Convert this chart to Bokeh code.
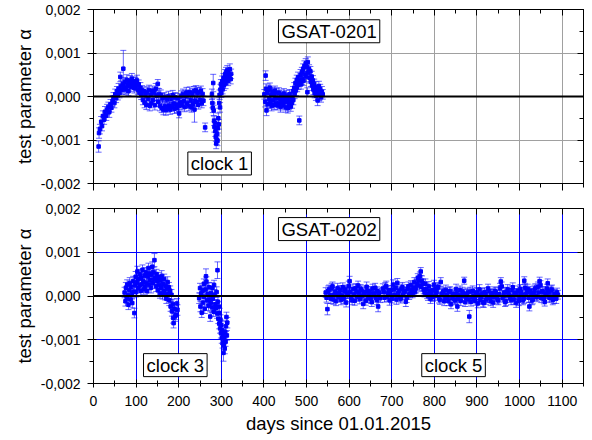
from bokeh.plotting import figure
from bokeh.models import (ColumnDataSource, Whisker, Span, Label, FixedTicker,
                          CustomJSTickFormatter, LinearAxis, Range1d, TeeHead,
                          CustomLabelingPolicy)
from bokeh.layouts import column
from bokeh.embed import file_html
from bokeh.resources import INLINE

FONT = "Liberation Sans"
UNIT = 1e-4  # alpha values and errors below are in units of 1e-4

# ---------------- GSAT-0201 (clock 1) ----------------
days_0201 = [
    12, 13, 15, 18, 20, 22, 25, 27, 30, 32,
    35, 37, 40, 42, 45, 47, 49, 51, 53, 55,
    57, 59, 61, 63, 65, 67, 69, 70, 72, 74,
    76, 78, 80, 82, 84, 86, 88, 90, 92, 94,
    96, 98, 100, 102, 104, 106, 108, 110, 112, 114,
    116, 118, 120, 122, 124, 126, 128, 130, 132, 134,
    136, 138, 140, 142, 144, 146, 148, 151, 152, 154,
    156, 158, 160, 162, 164, 166, 168, 170, 172, 174,
    176, 178, 180, 182, 184, 186, 188, 190, 192, 194,
    196, 198, 200, 201, 204, 206, 208, 210, 212, 214,
    216, 218, 220, 222, 224, 226, 228, 230, 232, 234,
    236, 237, 238, 240, 242, 244, 246, 248, 250, 252,
    254, 256, 258, 262, 278, 279, 280, 281, 282, 283,
    284, 285, 286, 287, 288, 289, 290, 291, 292, 293,
    294, 295, 296, 297, 298, 299, 300, 301, 302, 303,
    305, 306, 307, 309, 310, 311, 313, 314, 316, 317,
    319, 320, 322, 323,
    401, 403, 404, 405, 406, 408, 409, 411, 412, 414,
    415, 417, 418, 420, 421, 423, 424, 426, 427, 429,
    430, 432, 433, 435, 436, 438, 439, 441, 442, 444,
    445, 447, 448, 450, 451, 453, 454, 456, 457, 459,
    460, 462, 463, 465, 466, 468, 469, 471, 472, 474,
    475, 477, 478, 480, 481, 483, 484, 486, 487, 489,
    490, 492, 493, 495, 496, 498, 499, 501, 502, 503,
    504, 506, 507, 509, 510, 512, 513, 515, 516, 518,
    519, 521, 522, 524, 526, 527, 529, 530, 532, 534,
    536, 538,
]
alpha_0201 = [
    -11.5, -8.4, -7.5, -5.8, -6.8, -4.5, -5.3, -3.5, -4.4, -3.0,
    -2.4, -3.6, -1.8, -2.6, -1.0, -0.2, -1.5, 0.5, -0.4, 1.2,
    0.3, 1.8, 0.8, 4.5, 2.4, 1.5, 2.9, 6.4, 2.0, 3.3,
    1.6, 3.8, 2.5, 1.2, 3.0, 3.6, 2.2, 4.1, 2.8, 3.5,
    1.9, 3.2, 2.4, 3.7, 1.5, 2.8, 0.9, 2.0, 0.4, 1.4,
    -0.8, 1.2, -1.4, 0.6, -1.9, 1.0, -0.6, 1.5, -2.1, 0.4,
    -1.5, 1.3, -0.8, 0.9, -2.0, 1.8, 0.2, 2.9, -1.2, 0.6,
    -2.2, 0.3, -2.6, -0.4, -3.0, -0.1, -2.3, -3.1, -0.6, -2.5,
    0.0, -2.1, -3.0, -0.5, -2.4, 0.3, -1.6, -2.8, -0.2, -1.9,
    -2.6, -0.4, -2.2, -3.9, -1.4, 0.1, -2.0, 0.6, -1.1, -2.4,
    0.2, 0.9, -1.6, 0.5, -2.2, 1.0, -0.9, -2.5, 0.6, -1.7,
    1.2, -3.0, -1.0, 1.4, -1.2, 0.8, -1.9, 1.0, -0.8, 1.3,
    -1.5, 0.6, -1.0, -7.1, 0.5, -1.5, -2.6, 3.1, -3.2, -5.6,
    -7.0, -6.1, -8.0, -9.2, -10.8, -9.9, -8.6, -10.2, -7.3, -5.0,
    -6.4, -1.5, 0.4, -2.5, 1.6, 2.8, 0.8, 2.2, 3.5, 1.7,
    4.2, 2.6, 3.8, 5.1, 3.0, 5.6, 4.4, 6.0, 3.6, 5.3,
    4.8, 6.3, 4.0, 5.2,
    0.5, -1.2, 4.8, 1.8, -3.2, 0.9, -1.8, 1.5, -0.6, 2.0,
    -1.5, 0.3, -2.2, 1.1, -0.9, 0.6, -1.9, 1.3, -0.4, -1.5,
    0.8, -2.0, -0.3, 0.9, -1.6, -0.5, -2.4, 0.4, -1.1, -0.2,
    -2.0, 0.7, -1.3, -0.6, -2.5, 0.2, -1.0, -2.7, -0.4, -1.8,
    0.5, -1.2, -2.3, -0.1, -1.5, 1.2, -0.8, 2.0, 0.6, 3.1,
    1.4, 3.8, 2.2, 4.4, 2.7, -5.5, 3.5, 5.0, 2.8, 5.6,
    4.0, 6.4, 3.6, 7.0, 5.2, 7.6, 4.6, 6.8, 1.0, 7.9,
    5.5, 6.2, 4.3, 5.8, 3.4, 4.6, 2.5, 3.7, 1.6, 2.9,
    0.8, 2.2, 0.2, 1.5, -0.9, 1.0, 2.4, 0.3, 1.7, -0.2,
    1.1, 0.5,
]
err_0201 = [
    1.3, 1.2, 1.1, 1.2, 1.1, 1.2, 1.1, 1.2, 1.1, 1.2,
    1.1, 1.2, 1.1, 1.0, 1.2, 1.1, 1.1, 1.2, 1.0, 1.1,
    1.1, 1.2, 1.1, 1.1, 1.2, 1.0, 1.1, 4.2, 1.2, 1.1,
    1.1, 1.2, 1.1, 1.0, 1.1, 1.2, 1.1, 1.2, 1.1, 1.0,
    1.1, 1.2, 1.1, 1.2, 1.1, 1.0, 1.1, 1.2, 1.1, 1.1,
    1.1, 1.0, 1.2, 1.1, 1.1, 1.2, 1.0, 1.1, 1.2, 1.1,
    1.1, 1.1, 1.2, 1.0, 1.1, 1.2, 1.1, 1.0, 1.1, 1.2,
    1.1, 1.2, 1.1, 1.1, 1.2, 1.0, 1.1, 1.2, 1.1, 1.1,
    1.2, 1.1, 1.1, 1.2, 1.0, 1.1, 1.2, 1.1, 1.1, 1.2,
    1.1, 1.1, 1.2, 1.0, 1.1, 1.2, 1.1, 1.1, 1.2, 1.1,
    1.1, 1.2, 1.1, 1.0, 1.1, 1.2, 1.1, 1.1, 1.2, 1.1,
    1.1, 2.9, 1.2, 1.1, 1.1, 1.2, 1.0, 1.1, 1.2, 1.1,
    1.1, 1.2, 1.1, 1.0, 1.2, 1.1, 1.1, 2.0, 1.2, 1.1,
    1.2, 1.1, 1.2, 1.1, 1.2, 1.1, 1.2, 1.1, 1.1, 1.2,
    1.1, 1.2, 1.1, 1.1, 1.2, 1.1, 1.0, 1.1, 1.2, 1.1,
    1.1, 1.2, 1.1, 1.1, 1.2, 1.1, 1.2, 1.1, 1.1, 1.2,
    1.1, 1.2, 1.1, 1.1,
    1.1, 1.2, 1.1, 1.1, 1.2, 1.1, 1.0, 1.1, 1.2, 1.1,
    1.1, 1.2, 1.1, 1.0, 1.1, 1.2, 1.1, 1.1, 1.2, 1.1,
    1.1, 1.1, 1.2, 1.1, 1.0, 1.1, 1.2, 1.1, 1.1, 1.2,
    1.1, 1.1, 1.2, 1.1, 1.1, 1.2, 1.0, 1.1, 1.2, 1.1,
    1.1, 1.2, 1.1, 1.1, 1.2, 1.1, 1.1, 1.2, 1.1, 1.1,
    1.2, 1.1, 1.1, 1.2, 1.1, 1.0, 1.1, 1.2, 1.1, 1.1,
    1.2, 1.1, 1.1, 1.2, 1.1, 1.1, 1.2, 1.1, 1.0, 1.2,
    1.1, 1.1, 1.2, 1.1, 1.1, 1.2, 1.1, 1.1, 1.2, 1.1,
    1.1, 1.2, 1.1, 1.1, 1.2, 1.1, 1.1, 1.2, 1.1, 1.1,
    1.2, 1.1,
]

# ---------------- GSAT-0202 (clock 3, clock 5) ----------------
days_0202 = [
    73, 75, 76, 78, 79, 81, 82, 84, 85, 87,
    88, 90, 91, 93, 94, 96, 97, 99, 100, 102,
    103, 105, 106, 108, 109, 111, 112, 114, 115, 117,
    118, 120, 121, 123, 124, 126, 127, 129, 130, 132,
    133, 135, 136, 138, 139, 141, 142, 143, 145, 147,
    148, 150, 151, 153, 154, 156, 157, 159, 160, 162,
    163, 165, 166, 168, 169, 171, 172, 174, 175, 177,
    178, 180, 181, 183, 184, 186, 187, 188, 190, 192,
    194, 196, 197,
    248, 250, 251, 253, 254, 256, 257, 259, 260, 261,
    263, 264, 265, 267, 268, 270, 271, 272, 274, 275,
    276, 278, 279, 280, 282, 283, 284, 286, 287, 289,
    290, 291, 292, 293, 294, 295, 296, 297, 298, 299,
    300, 301, 302, 303, 304, 305, 306, 307, 308, 309,
    310, 311, 312, 313, 314,
    545, 549, 553, 557, 561, 565, 569, 573, 577, 581,
    585, 589, 593, 597, 601, 605, 609, 613, 617, 621,
    625, 629, 633, 637, 641, 645, 649, 653, 657, 661,
    665, 668, 671, 679, 683, 687, 691, 695, 699, 703,
    707, 711, 713, 717, 721, 725, 729, 733, 737, 741,
    745, 749, 753, 757, 761, 765, 768, 771, 775, 779,
    783, 787, 791, 795, 799, 803, 807, 811, 815, 819,
    823, 827, 831, 835, 839, 843, 847, 851, 854, 858,
    862, 866, 870, 874, 878, 882, 886, 890, 894, 898,
    902, 906, 910, 914, 918, 922, 926, 930, 934, 938,
    942, 946, 950, 954, 956, 960, 964, 968, 972, 976,
    980, 984, 988, 992, 996, 1000, 1004, 1008, 1011, 1015,
    1019, 1023, 1027, 1031, 1035, 1039, 1043, 1047, 1051, 1055,
    1059, 1063, 1066, 1070, 1074, 1078, 1082, 1086, 1090,
    547, 551, 555, 559, 563, 567, 571, 575, 579, 583,
    587, 591, 595, 599, 603, 607, 611, 615, 619, 623,
    627, 631, 635, 639, 643, 647, 651, 655, 659, 663,
    666, 669, 673, 681, 685, 689, 693, 697, 701, 705,
    709, 715, 719, 723, 727, 731, 735, 739, 743, 747,
    751, 755, 759, 763, 766, 769, 773, 777, 781, 785,
    789, 793, 797, 801, 805, 809, 813, 817, 821, 825,
    829, 833, 837, 841, 845, 849, 852, 856, 860, 864,
    868, 872, 876, 880, 884, 888, 892, 896, 900, 904,
    908, 912, 916, 920, 924, 928, 932, 936, 940, 944,
    948, 952, 958, 962, 966, 970, 974, 978, 982, 986,
    990, 994, 998, 1002, 1006, 1010, 1013, 1017, 1021, 1025,
    1029, 1033, 1037, 1041, 1045, 1049, 1053, 1057, 1061, 1064,
    1068, 1072, 1076, 1080, 1084, 1088,
]
alpha_0202 = [
    0.8, -1.2, 1.9, -0.4, 2.6, 0.2, -2.0, 1.4, 3.0, -0.8,
    2.1, 0.5, -1.6, 3.4, 1.0, -3.9, 2.5, 4.4, 0.9, 3.1,
    5.6, 1.8, 3.9, 2.4, 5.0, 1.2, 4.2, 2.7, 6.0, 3.3,
    1.5, 4.7, 2.0, 5.4, 3.0, 1.1, 4.5, 6.4, 2.6, 5.1,
    3.6, 1.9, 4.8, 6.7, 2.9, 5.5, 3.8, 8.2, 4.1, 2.2,
    5.0, 3.4, 1.3, 4.3, 2.5, 0.7, 3.6, 1.9, 4.6, 0.4,
    2.8, 1.1, 3.9, 0.2, 2.3, -0.6, 1.6, 3.2, 0.5, 2.0,
    -1.0, 1.2, -2.4, 0.3, -3.5, -1.8, -5.0, -6.2, -2.9, -4.6,
    -4.3, -1.7, -3.2,
    -0.5, 1.8, -2.4, 0.6, -3.8, 1.2, -1.5, 2.8, -0.2, -2.9,
    1.5, 4.5, 3.3, -1.0, 0.4, -2.2, 2.0, -0.8, -4.7, -1.6,
    0.7, -2.6, 1.9, -0.6, -3.6, 2.5, 0.2, -1.9, -2.8, 0.9,
    -4.0, 5.9, -1.3, -5.2, -2.4, -6.3, -3.9, -7.4, -5.5, -8.5,
    -6.6, -9.6, -7.8, -10.8, -8.9, -13.0, -11.2, -9.7, -12.0, -8.2,
    -10.4, -6.9, -4.8, -9.0, -6.1,
    0.8, -3.0, 1.5, -0.6, 2.2, 0.3, -1.2, 1.8, 0.5, -0.9,
    2.0, 1.1, -1.5, 0.7, 3.4, -0.3, 1.6, -1.1, 0.9, 2.4,
    -0.7, 1.3, -1.8, 0.4, 2.1, -0.5, 1.0, -1.4, 0.6, 1.9,
    -0.9, -2.4, 0.8, 1.7, -0.4, 2.3, 0.6, -1.0, 1.4, 2.6,
    0.2, -0.8, 3.0, 1.2, -0.6, 2.0, 0.9, -1.3, 1.6, 0.3,
    2.5, 0.7, 3.2, 1.8, 4.1, 2.4, 5.6, 3.5, 1.5, 2.8,
    0.4, 2.2, -0.7, 1.3, 2.6, 0.1, 1.8, -0.5, 3.2, 0.6,
    -1.2, 1.4, -0.3, 0.9, -1.9, 0.5, -0.8, 1.6, -2.4, 0.2,
    -1.1, 1.0, 3.5, -0.4, 0.8, -4.7, -1.3, 1.2, -0.6, 0.7,
    -1.7, 1.5, -0.2, -1.4, 0.9, -0.8, 1.7, -0.3, 0.6, -1.5,
    1.1, 0.2, -1.0, 1.8, 3.3, -0.4, 0.8, -1.2, 1.5, 0.1,
    -0.9, 2.0, 0.5, -1.6, 1.2, -0.2, 0.9, -1.0, 3.5, 0.4,
    1.6, -2.4, 0.7, -0.8, 1.4, 0.0, 2.1, 3.4, -0.5, 1.0,
    -1.3, 0.6, 2.9, -0.4, 1.3, -0.9, 0.5, -0.6, 0.3,
    -0.4, 1.2, 0.2, 1.9, -0.8, 1.0, 0.6, -0.3, 1.4, 0.1,
    -0.6, 1.5, 0.4, 2.3, 0.9, -1.0, 0.3, 1.8, -0.2, 0.8,
    1.6, 0.0, 0.9, -1.1, 1.2, 0.5, -0.7, 1.7, 0.2, -0.4,
    1.1, 0.3, -0.5, 0.9, 2.0, -0.2, 1.3, 0.4, -0.6, 1.5,
    1.9, 0.7, -0.3, 1.6, 0.2, 1.1, -0.4, 2.2, 0.6, 1.4,
    1.9, 0.9, 2.7, 3.6, 4.5, 2.1, 2.9, 0.8, 1.6, 0.0,
    1.1, 0.5, -0.2, 1.5, 0.8, 2.1, -0.9, 0.4, 1.0, -0.5,
    0.3, -1.2, 1.1, -0.4, 0.2, -1.0, 0.7, -0.6, 1.3, -0.1,
    0.6, -1.4, 0.4, -0.8, 1.0, -0.3, 0.1, -1.1, 0.8, 0.2,
    -0.9, 0.6, -1.6, 0.3, -0.4, 1.1, -1.2, 0.5, -0.3, 0.9,
    -0.7, 0.4, 2.2, 0.0, -1.4, 1.0, 0.6, -0.5, 1.3, -0.8,
    0.7, 0.2, -1.1, 1.6, 0.3, -0.6, 1.9, 0.9, -0.4, 1.2,
    -1.0, 0.5, 1.8, -0.3, 0.8, 2.5, 1.1, -0.7, 0.4, 1.7,
    0.9, -0.2, 1.5, -0.6, 0.2, 0.8,
]
err_0202 = [
    1.2, 1.1, 1.2, 1.1, 1.1, 1.2, 1.1, 1.1, 1.2, 1.1,
    1.1, 1.2, 1.1, 1.1, 1.2, 1.1, 1.1, 1.2, 1.1, 1.1,
    1.2, 1.1, 1.1, 1.2, 1.1, 1.1, 1.2, 1.1, 1.1, 1.2,
    1.1, 1.1, 1.2, 1.1, 1.1, 1.2, 1.1, 1.1, 1.2, 1.1,
    1.1, 1.2, 1.1, 1.1, 1.2, 1.1, 1.1, 1.5, 1.1, 1.2,
    1.1, 1.1, 1.2, 1.1, 1.1, 1.2, 1.1, 1.1, 1.2, 1.1,
    1.1, 1.2, 1.1, 1.1, 1.2, 1.1, 1.1, 1.2, 1.1, 1.1,
    1.2, 1.1, 1.1, 1.2, 1.1, 1.1, 1.2, 1.1, 1.1, 1.2,
    1.1, 1.1, 1.2,
    1.2, 1.1, 1.2, 1.1, 1.1, 1.2, 1.1, 1.1, 1.2, 1.1,
    1.1, 1.7, 1.1, 1.1, 1.2, 1.1, 1.1, 1.2, 1.1, 1.1,
    1.2, 1.1, 1.1, 1.2, 1.1, 1.1, 1.2, 1.1, 1.1, 1.2,
    1.1, 1.9, 1.2, 1.1, 1.1, 1.2, 1.1, 1.1, 1.2, 1.1,
    1.1, 1.2, 1.1, 1.1, 1.2, 1.9, 1.1, 1.1, 1.2, 1.1,
    1.1, 1.2, 1.1, 1.1, 1.2,
    1.1, 1.3, 1.0, 1.1, 1.0, 1.1, 1.0, 1.1, 1.0, 1.1,
    1.0, 1.1, 1.0, 1.1, 1.1, 1.0, 1.1, 1.0, 1.1, 1.0,
    1.1, 1.0, 1.1, 1.0, 1.1, 1.0, 1.1, 1.0, 1.1, 1.0,
    1.1, 1.2, 1.0, 1.1, 1.0, 1.1, 1.0, 1.1, 1.0, 1.1,
    1.0, 1.1, 1.0, 1.1, 1.0, 1.1, 1.0, 1.1, 1.0, 1.1,
    1.0, 1.1, 1.0, 1.1, 1.0, 1.1, 0.9, 1.1, 1.0, 1.1,
    1.0, 1.1, 1.0, 1.1, 1.0, 1.1, 1.0, 1.1, 1.0, 1.1,
    1.0, 1.1, 1.0, 1.1, 1.0, 1.1, 1.0, 1.1, 1.1, 1.0,
    1.1, 1.0, 0.8, 1.1, 1.0, 1.4, 1.0, 1.1, 1.0, 1.1,
    1.0, 1.1, 1.0, 1.1, 1.0, 1.1, 1.0, 1.1, 1.0, 1.1,
    1.0, 1.1, 1.0, 1.1, 0.9, 1.0, 1.1, 1.0, 1.1, 1.0,
    1.1, 1.0, 1.1, 1.0, 1.1, 1.0, 1.1, 1.0, 0.9, 1.0,
    1.1, 1.0, 1.1, 1.0, 1.1, 1.0, 1.1, 0.9, 1.0, 1.1,
    1.0, 1.1, 1.0, 1.1, 1.0, 1.1, 1.0, 1.1, 1.0,
    1.0, 1.1, 1.0, 1.0, 1.1, 1.0, 1.0, 1.1, 1.0, 1.0,
    1.1, 1.0, 1.0, 1.1, 1.0, 1.0, 1.1, 1.0, 1.0, 1.1,
    1.0, 1.0, 1.1, 1.0, 1.0, 1.1, 1.0, 1.0, 1.1, 1.0,
    1.0, 1.1, 1.0, 1.0, 1.1, 1.0, 1.0, 1.1, 1.0, 1.0,
    1.1, 1.0, 1.0, 1.1, 1.0, 1.0, 1.1, 1.0, 1.0, 1.1,
    1.0, 1.0, 1.1, 1.0, 1.0, 1.1, 1.0, 1.0, 1.1, 1.0,
    1.0, 1.1, 1.0, 1.0, 1.1, 1.0, 1.0, 1.1, 1.0, 1.0,
    1.1, 1.0, 1.0, 1.1, 1.0, 1.0, 1.1, 1.0, 1.0, 1.1,
    1.0, 1.0, 1.1, 1.0, 1.0, 1.1, 1.0, 1.0, 1.1, 1.0,
    1.0, 1.1, 1.0, 1.0, 1.1, 1.0, 1.0, 1.1, 1.0, 1.0,
    1.1, 1.0, 1.0, 1.1, 1.0, 1.0, 1.1, 1.0, 1.0, 1.1,
    1.0, 1.0, 1.1, 1.0, 1.0, 1.1, 1.0, 1.0, 1.1, 1.0,
    1.0, 1.1, 1.0, 1.0, 1.1, 1.0, 1.0, 1.1, 1.0, 1.0,
    1.1, 1.0, 1.0, 1.1, 1.0, 1.0,
]

x_ticks = [0, 100, 200, 300, 400, 500, 600, 700, 800, 900, 1000, 1100]
x_minor = [50, 150, 250, 350, 450, 550, 650, 750, 850, 950, 1050, 1150]
y_ticks = [-0.002, -0.001, 0.0, 0.001, 0.002]
y_minor = [-0.0015, -0.0005, 0.0005, 0.0015]

BLUE = "#0000ff"
FMT = CustomJSTickFormatter(code="return tick.toFixed(3).replace('.', ',');")


def hide_labels(ax):
    ax.major_label_text_font_size = "0px"
    ax.major_label_standoff = 0
    ax.major_label_policy = CustomLabelingPolicy(
        code="for (const i of Array.from(indices)) indices.unset(i)")


def build(days, alpha, err, grid_color, height, b_top, b_bottom, show_x):
    assert len(days) == len(alpha) == len(err), (len(days), len(alpha), len(err))
    y = [a * UNIT for a in alpha]
    e = [v * UNIT for v in err]
    src = ColumnDataSource(dict(x=days, y=y,
                                lo=[a - b for a, b in zip(y, e)],
                                hi=[a + b for a, b in zip(y, e)]))
    p = figure(width=592, height=height, output_backend="svg", toolbar_location=None,
               x_range=Range1d(0, 1150), y_range=Range1d(-0.002, 0.002),
               min_border_left=93, min_border_right=9,
               min_border_top=b_top, min_border_bottom=b_bottom)
    p.outline_line_color = "black"
    p.outline_line_width = 1
    p.xgrid.ticker = FixedTicker(ticks=x_ticks)
    p.ygrid.ticker = FixedTicker(ticks=y_ticks)
    p.grid.grid_line_color = grid_color
    p.grid.grid_line_width = 1

    xt = FixedTicker(ticks=x_ticks, minor_ticks=x_minor)
    yt = FixedTicker(ticks=y_ticks, minor_ticks=y_minor)

    # bottom axis
    bx = p.xaxis[0]
    bx.ticker = xt
    bx.axis_line_color = "black"
    bx.major_tick_line_color = "black"
    bx.minor_tick_line_color = "black"
    if show_x:
        bx.major_tick_in, bx.major_tick_out = 4, 4
        bx.minor_tick_in, bx.minor_tick_out = 3, 3
        bx.major_label_text_font = FONT
        bx.major_label_text_font_size = "14px"
        bx.major_label_text_color = "black"
        bx.major_label_standoff = 8
        bx.axis_label = "days since 01.01.2015"
        bx.axis_label_text_font = FONT
        bx.axis_label_text_font_size = "18.5px"
        bx.axis_label_text_font_style = "normal"
        bx.axis_label_text_color = "black"
        bx.axis_label_standoff = 4
    else:
        bx.major_tick_in, bx.major_tick_out = 0, 7
        bx.minor_tick_in, bx.minor_tick_out = 0, 4
        hide_labels(bx)

    # left axis
    ly = p.yaxis[0]
    ly.ticker = yt
    ly.formatter = FMT
    ly.axis_line_color = "black"
    ly.major_tick_line_color = "black"
    ly.minor_tick_line_color = "black"
    ly.major_tick_in, ly.major_tick_out = 3, 6
    ly.minor_tick_in, ly.minor_tick_out = 0, 4
    ly.major_label_text_font = FONT
    ly.major_label_text_font_size = "14px"
    ly.major_label_text_color = "black"
    ly.major_label_standoff = 7
    ly.axis_label = "test parameter \u03b1"
    ly.axis_label_text_font = FONT
    ly.axis_label_text_font_size = "18.5px"
    ly.axis_label_text_font_style = "normal"
    ly.axis_label_text_color = "black"
    ly.axis_label_standoff = 3

    # mirror axes (top and right), ticks inward
    tx = LinearAxis(ticker=FixedTicker(ticks=x_ticks, minor_ticks=x_minor))
    tx.major_tick_in, tx.major_tick_out = 6, 0
    tx.minor_tick_in, tx.minor_tick_out = 4, 0
    hide_labels(tx)
    p.add_layout(tx, "above")
    ry = LinearAxis(ticker=FixedTicker(ticks=y_ticks, minor_ticks=y_minor))
    ry.major_tick_in, ry.major_tick_out = 6, 0
    ry.minor_tick_in, ry.minor_tick_out = 4, 0
    hide_labels(ry)
    p.add_layout(ry, "right")
    for ax in (tx, ry):
        ax.axis_line_color = "black"
        ax.major_tick_line_color = "black"
        ax.minor_tick_line_color = "black"

    w = Whisker(source=src, base="x", lower="lo", upper="hi",
                line_color=BLUE, line_alpha=0.6, line_width=1, level="glyph",
                upper_head=TeeHead(size=6, line_color=BLUE, line_alpha=0.6, line_width=1),
                lower_head=TeeHead(size=6, line_color=BLUE, line_alpha=0.6, line_width=1))
    p.add_layout(w)
    p.scatter("x", "y", source=src, marker="square", size=3.5,
              fill_color=BLUE, line_color=BLUE)
    p.add_layout(Span(location=0, dimension="width", line_color="black", line_width=2))
    return p


def box(p, x, y, text):
    p.add_layout(Label(x=x, y=y, text=text, text_align="center", text_baseline="middle",
                       text_font=FONT, text_font_size="18.5px", text_color="black",
                       border_line_color="black", border_line_width=1,
                       background_fill_color="white", padding=(3, 1)))


p1 = build(days_0201, alpha_0201, err_0201, "#a0a0a0", 195, 9, 12, False)
box(p1, 553, 0.0015, "GSAT-0201")
box(p1, 296, -0.00154, "clock 1")

p2 = build(days_0202, alpha_0202, err_0202, BLUE, 242, 13, 54, True)
box(p2, 553, 0.00153, "GSAT-0202")
box(p2, 192, -0.00158, "clock 3")
box(p2, 845, -0.00158, "clock 5")

layout = column(p1, p2, spacing=0)
open("out.html", "w").write(file_html(layout, INLINE))
